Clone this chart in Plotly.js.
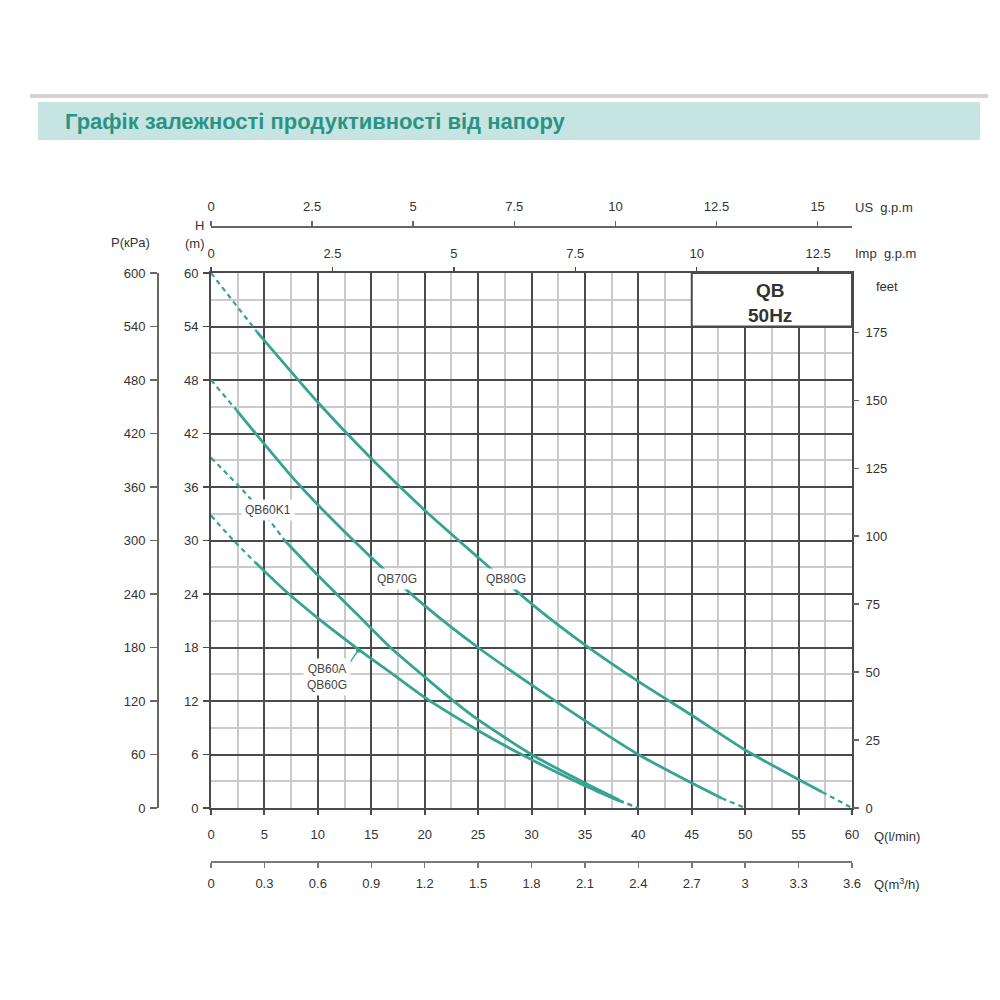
<!DOCTYPE html>
<html>
<head>
<meta charset="utf-8">
<script src="https://cdn.plot.ly/plotly-3.0.1.min.js"></script>
<style>html,body{margin:0;padding:0;background:#fff;}#chart{width:1000px;height:1000px;}</style>
</head>
<body>
<div id="chart"></div>
<script>
// ---- data ----
const titleText = "Графік залежності продуктивності від напору";

// QB80G
const q80 = [0, 4.3, 10, 15, 20, 25, 30, 35, 40, 45, 50, 55, 57.2, 60];
const h80 = [60, 53.4, 45.5, 39.2, 33.4, 28.1, 22.9, 18.3, 14.2, 10.4, 6.5, 3.2, 1.8, 0];
// QB70G
const q70 = [0, 2.4, 5, 7.6, 10, 15, 20, 25, 30, 35, 40, 45, 47.8, 50];
const h70 = [48, 44.6, 40.8, 37.1, 34.0, 28.1, 22.7, 18.0, 13.8, 9.8, 6.0, 2.8, 1.1, 0];
// QB60K1
const qK1 = [0, 3, 5.5, 6.9, 10, 13.7, 16.8, 20, 22.6, 25, 30, 35, 38.2, 40];
const hK1 = [39.3, 35.6, 32.2, 30.0, 26.1, 21.7, 18.0, 14.7, 12.1, 9.9, 6.0, 2.8, 0.9, 0];
// QB60A / QB60G
const qA = [0, 2.1, 4.1, 7, 10, 13.8, 16.8, 20, 25, 28.9, 35, 38.2, 40];
const hA = [32.8, 30.0, 27.6, 24.3, 21.3, 17.8, 15.2, 12.4, 8.7, 6.1, 2.5, 0.8, 0];

// which points belong to the dashed start / dashed end of each curve
const curves = [
  {name: "QB80G", q: q80, h: h80, dashStart: 1, dashEnd: 12},
  {name: "QB70G", q: q70, h: h70, dashStart: 1, dashEnd: 12},
  {name: "QB60K1", q: qK1, h: hK1, dashStart: 3, dashEnd: 12},
  {name: "QB60A", q: qA, h: hA, dashStart: 2, dashEnd: 11}
];

// curve labels
const labelTexts = ["QB60K1", "QB70G", "QB80G", "QB60A<br>QB60G"];
const labelQ = [5.3, 17.4, 27.6, 10.9];
const labelH = [33.4, 25.7, 25.7, 14.7];
// leader from the QB60A/QB60G label to its curve
const pointerQ = [12.7, 13.8];
const pointerH = [15.8, 17.7];

// unit conversions
const L_PER_USGAL = 3.78541, L_PER_IMPGAL = 4.54609, M_PER_FT = 0.3048;
const qMax = 60, hMax = 60, pMax = 600;
const m3hTicks = [0, 0.3, 0.6, 0.9, 1.2, 1.5, 1.8, 2.1, 2.4, 2.7, 3, 3.3, 3.6];
const m3hText = ["0", "0.3", "0.6", "0.9", "1.2", "1.5", "1.8", "2.1", "2.4", "2.7", "3", "3.3", "3.6"];

// ---- styles ----
const teal = "#37a393";
const dark = "#4a4a4a";
const light = "#cacaca";
const txt = "#333333";

const traces = [];
curves.forEach(c => {
  const seg = (a, b) => ({q: c.q.slice(a, b + 1), h: c.h.slice(a, b + 1)});
  const parts = [
    [seg(0, c.dashStart), "5px,4px", 2.2],
    [seg(c.dashStart, c.dashEnd), "solid", 2.8],
    [seg(c.dashEnd, c.q.length - 1), "5px,4px", 2.2]
  ];
  parts.forEach(([s, dash, w]) => {
    traces.push({
      type: "scatter", mode: "lines", x: s.q, y: s.h,
      line: {color: teal, width: w, dash: dash, shape: "spline", smoothing: 0.6},
      hoverinfo: "skip", showlegend: false, xaxis: "x", yaxis: "y"
    });
  });
});
// leader line + dot for the QB60A/QB60G label
traces.push({type: "scatter", mode: "lines", x: pointerQ, y: pointerH,
  line: {color: teal, width: 1.3}, hoverinfo: "skip", showlegend: false});
traces.push({type: "scatter", mode: "markers", x: pointerQ.slice(1), y: pointerH.slice(1),
  marker: {color: teal, size: 5}, hoverinfo: "skip", showlegend: false});
// empty traces to register the extra axes
[["x2","y"],["x3","y"],["x4","y"],["x","y2"],["x","y3"]].forEach(([xa, ya]) => {
  traces.push({type: "scatter", mode: "lines", x: [], y: [], xaxis: xa, yaxis: ya, showlegend: false, hoverinfo: "skip"});
});

const tickFont = {family: "Liberation Sans, Arial, sans-serif", size: 13, color: txt};
const dom = [0.211, 0.852];
const ydom = [0.192, 0.727];

const layout = {
  width: 1000, height: 1000,
  margin: {l: 0, r: 0, t: 0, b: 0},
  paper_bgcolor: "#ffffff", plot_bgcolor: "#ffffff",
  showlegend: false,
  font: tickFont,
  xaxis: {
    domain: dom, range: [0, qMax], tick0: 0, dtick: 5,
    showgrid: true, gridcolor: dark, gridwidth: 2,
    minor: {dtick: 2.5, showgrid: true, gridcolor: light, gridwidth: 2, ticks: ""},
    ticks: "outside", ticklen: 5, tickwidth: 2, tickcolor: dark,
    showline: true, mirror: true, linecolor: dark, linewidth: 2,
    zeroline: false, tickfont: tickFont, ticklabelstandoff: 8, fixedrange: true
  },
  yaxis: {
    domain: ydom, range: [0, hMax], tick0: 0, dtick: 6,
    showgrid: true, gridcolor: dark, gridwidth: 2,
    minor: {dtick: 3, showgrid: true, gridcolor: light, gridwidth: 2, ticks: ""},
    ticks: "outside", ticklen: 6, tickwidth: 1.5, tickcolor: dark,
    showline: true, mirror: true, linecolor: dark, linewidth: 2,
    zeroline: false, tickfont: tickFont, ticklabelstandoff: 2, fixedrange: true
  },
  xaxis2: {
    overlaying: "x", anchor: "y", side: "top",
    range: [0, qMax / L_PER_IMPGAL], tick0: 0, dtick: 2.5,
    showgrid: false, zeroline: false, showline: false,
    ticks: "outside", ticklen: 5, tickwidth: 1.5, tickcolor: dark,
    tickfont: tickFont, ticklabelstandoff: 4, fixedrange: true
  },
  xaxis3: {
    overlaying: "x", anchor: "free", position: 0.7735, side: "top",
    range: [0, qMax / L_PER_USGAL], tick0: 0, dtick: 2.5,
    showgrid: false, zeroline: false, showline: true, linecolor: "#666", linewidth: 2,
    ticks: "outside", ticklen: 5, tickwidth: 1.5, tickcolor: "#666",
    tickfont: tickFont, ticklabelstandoff: 4, fixedrange: true
  },
  xaxis4: {
    overlaying: "x", anchor: "free", position: 0.138, side: "bottom",
    range: [0, 3.6], tickmode: "array", tickvals: m3hTicks, ticktext: m3hText,
    showgrid: false, zeroline: false, showline: true, linecolor: "#777", linewidth: 2,
    ticks: "outside", ticklen: 5, tickwidth: 1.5, tickcolor: "#777",
    tickfont: tickFont, ticklabelstandoff: 4, fixedrange: true
  },
  yaxis2: {
    overlaying: "y", anchor: "free", position: 0.158, side: "left",
    range: [0, pMax], tick0: 0, dtick: 60,
    showgrid: false, zeroline: false, showline: true, linecolor: "#666", linewidth: 2,
    ticks: "outside", ticklen: 7, tickwidth: 1.5, tickcolor: "#666",
    tickfont: tickFont, ticklabelstandoff: 2, fixedrange: true
  },
  yaxis3: {
    overlaying: "y", anchor: "x", side: "right",
    range: [0, hMax / M_PER_FT], tick0: 0, dtick: 25,
    showgrid: false, zeroline: false, showline: false,
    ticks: "outside", ticklen: 6, tickwidth: 1.5, tickcolor: "#666",
    tickfont: tickFont, ticklabelstandoff: 4, fixedrange: true
  },
  shapes: [
    {type: "rect", xref: "paper", yref: "paper", x0: 0.03, x1: 0.988, y0: 1 - 0.098, y1: 1 - 0.094,
     fillcolor: "#d3d3d3", line: {width: 0}, layer: "below"},
    {type: "rect", xref: "paper", yref: "paper", x0: 0.038, x1: 0.98, y0: 1 - 0.140, y1: 1 - 0.102,
     fillcolor: "#c6e4e2", line: {width: 0}, layer: "below"},
    {type: "rect", xref: "x", yref: "y", x0: 45, x1: 60, y0: 54, y1: 60,
     fillcolor: "#ffffff", line: {color: dark, width: 2}, layer: "above"}
  ],
  annotations: []
};

const ann = layout.annotations;
const paperText = (text, x, y, xanchor, opts) => ann.push(Object.assign({
  text: text, xref: "paper", yref: "paper", x: x / 1000, y: 1 - y / 1000,
  xanchor: xanchor, yanchor: "middle", showarrow: false, font: tickFont
}, opts || {}));

paperText("<b>" + titleText + "</b>", 63, 121, "left",
  {font: {family: "Liberation Sans, Arial, sans-serif", size: 22, color: "#2a9484"}});
paperText("P(кPa)", 130, 242, "center");
paperText("H", 199, 226, "center");
paperText("(m)", 195, 243, "center");
paperText("US&nbsp;&nbsp;g.p.m", 853, 208, "left");
paperText("Imp&nbsp;&nbsp;g.p.m", 853, 253, "left");
paperText("feet", 874, 287, "left");
paperText("Q(l/min)", 872, 836, "left");
paperText("Q(m<sup>3</sup>/h)", 872, 884, "left");

ann.push({text: "<b>QB</b><br><b>50Hz</b>", xref: "x", yref: "y", x: 52.3, y: 56.6,
  showarrow: false, font: {family: "Liberation Sans, Arial, sans-serif", size: 19, color: "#333"}});

labelTexts.forEach((t, i) => {
  ann.push({text: t, xref: "x", yref: "y", x: labelQ[i], y: labelH[i], showarrow: false,
    bgcolor: "#ffffff", borderpad: 3, font: {family: "Liberation Sans, Arial, sans-serif", size: 12, color: "#444"}});
});

Plotly.newPlot("chart", traces, layout, {staticPlot: true, displayModeBar: false});
</script>
</body>
</html>
